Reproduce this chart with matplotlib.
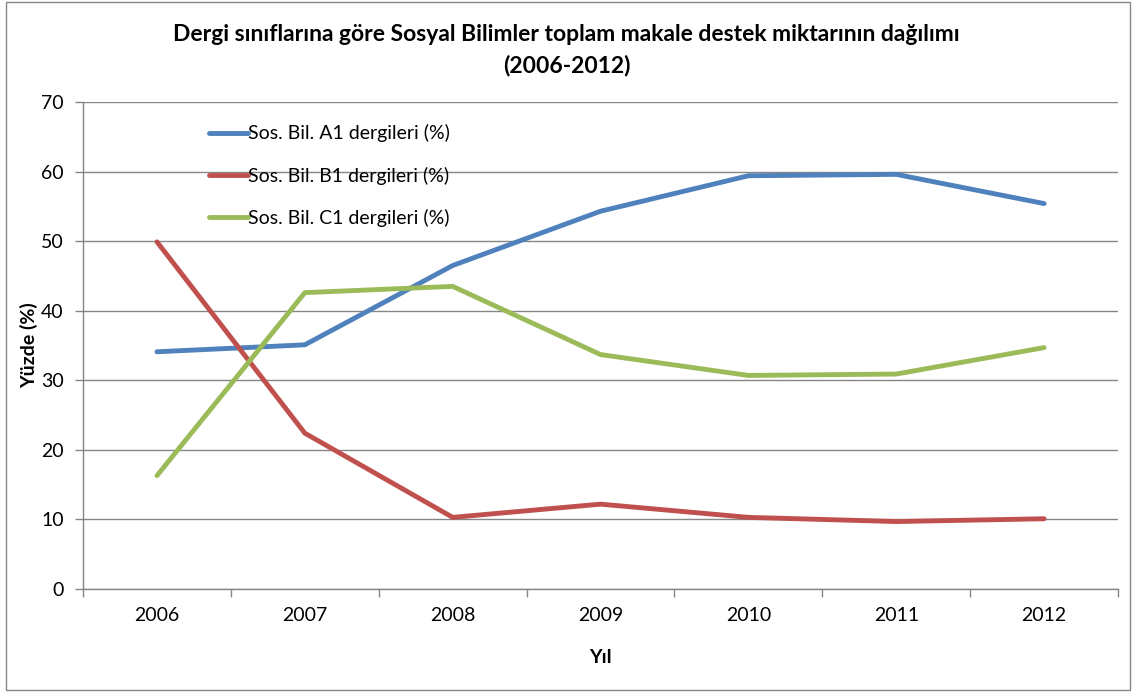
import matplotlib.pyplot as plt
from matplotlib.ticker import FixedLocator, MultipleLocator
from matplotlib.patches import Rectangle

# Data
years = ["2006", "2007", "2008", "2009", "2010", "2011", "2012"]
a1 = [34.1, 35.1, 46.5, 54.3, 59.4, 59.6, 55.4]
b1 = [49.9, 22.4, 10.3, 12.2, 10.3, 9.7, 10.1]
c1 = [16.3, 42.6, 43.5, 33.7, 30.7, 30.9, 34.7]
labels = ["Sos. Bil. A1 dergileri (%)", "Sos. Bil. B1 dergileri (%)", "Sos. Bil. C1 dergileri (%)"]
colors = ["#4F81BD", "#C0504D", "#9BBB59"]

plt.rcParams['font.family'] = ['Lato', 'DejaVu Sans']

fig = plt.figure(figsize=(11.33, 6.92), dpi=100)
ax = fig.add_axes([0.0733, 0.1488, 0.9135, 0.7038])

x = range(len(years))
for ys, lab, col in zip((a1, b1, c1), labels, colors):
    ax.plot(x, ys, color=col, linewidth=3.5, label=lab, solid_capstyle='round')

ax.set_xlim(-0.5, len(years) - 0.5)
ax.set_ylim(0, 70)
ax.yaxis.set_major_locator(MultipleLocator(10))
ax.grid(axis='y', color='#868686', linewidth=1)
ax.set_axisbelow(True)

ax.set_xticks(list(x))
ax.set_xticklabels(years)
ax.xaxis.set_minor_locator(FixedLocator([i - 0.5 for i in range(len(years) + 1)]))
ax.tick_params(axis='x', which='major', length=0, pad=13, labelsize=14)
ax.tick_params(axis='x', which='minor', length=6, color='#868686', width=1)
ax.tick_params(axis='y', length=6, color='#868686', width=1, labelsize=14, pad=8)

for s in ('top', 'right'):
    ax.spines[s].set_visible(False)
for s in ('left', 'bottom'):
    ax.spines[s].set_color('#868686')
    ax.spines[s].set_linewidth(1)

ax.set_xlabel("Yıl", fontsize=14, fontweight='bold', labelpad=18)
ax.set_ylabel("Yüzde (%)", fontsize=14, fontweight='bold', labelpad=2)

fig.suptitle("Dergi sınıflarına göre Sosyal Bilimler toplam makale destek miktarının dağılımı\n(2006-2012)",
             fontsize=16.5, fontweight='bold', y=0.965, linespacing=1.55)

leg = ax.legend(loc='upper left', bbox_to_anchor=(0.105, 0.99), frameon=False,
                fontsize=14, handlelength=2.0, handletextpad=0.0, labelspacing=1.25)

# outer chart border
fig.patches.append(Rectangle((0.005, 0.003), 0.992, 0.994, transform=fig.transFigure,
                             fill=False, edgecolor='#868686', linewidth=1))

fig.savefig("out.png", dpi=100)
